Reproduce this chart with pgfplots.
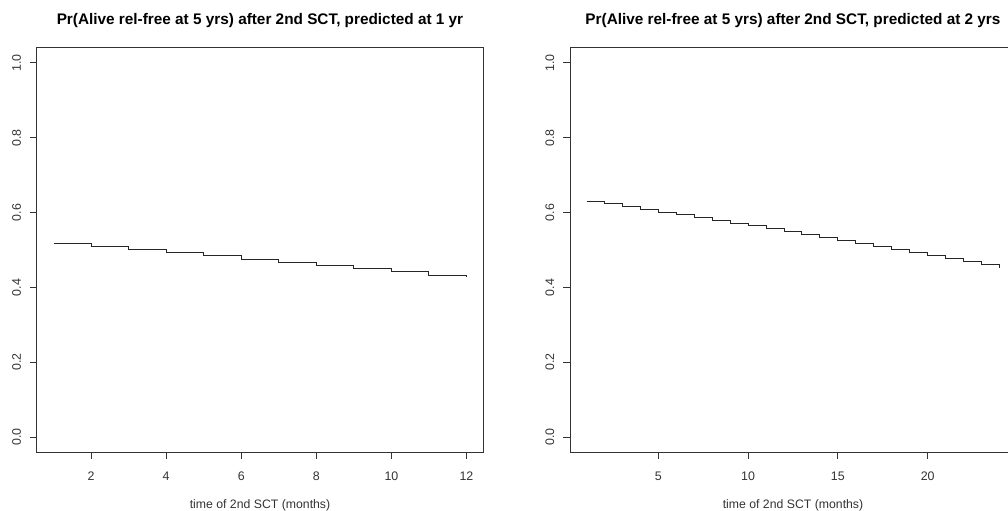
\documentclass[border=0pt]{standalone}
\usepackage{fontspec}
\setmainfont{Liberation Sans}
\usepackage{pgfplots}
\pgfplotsset{compat=1.18}
\pgfplotsset{rstyle/.style={
  scale only axis, width=334.5pt, height=303pt,
  ymin=-0.04, ymax=1.04,
  ytick={0,0.2,0.4,0.6,0.8,1.0},
  yticklabels={0.0,0.2,0.4,0.6,0.8,1.0},
  xtick pos=left, ytick pos=left,
  tick align=outside,
  major tick length=5pt,
  axis line style={black!80, line width=0.75pt},
  every tick/.style={black!80, line width=0.75pt},
  /pgf/number format/assume math mode=true,
  tick label style={font=\fontsize{9.3}{11}\selectfont, text=black!80},
  xticklabel style={anchor=base, yshift=-16pt},
  yticklabel style={xshift=-7pt, rotate=90, anchor=base},
  title style={font=\bfseries\fontsize{11.5}{13}\selectfont, at={(0.5,1)}, anchor=base, yshift=11.6pt},
  xlabel style={font=\fontsize{9.2}{11}\selectfont, text=black!80, at={(0.5,0)}, anchor=base, yshift=-42pt},
  xlabel={time of 2nd SCT (months)},
}}
\begin{document}
\begin{tikzpicture}
\path[use as bounding box] (0pt,0pt) rectangle (756pt,383.25pt);
\begin{scope}
\clip (0pt,0pt) rectangle (756pt,383.25pt);
\begin{axis}[rstyle, at={(27.75pt,44.25pt)}, anchor=south west,
  xmin=0.56, xmax=12.44, xtick={2,4,6,8,10,12},
  title={Pr(Alive rel-free at 5 yrs) after 2nd SCT, predicted at 1 yr}]
\addplot[const plot, black!85, line width=0.75pt] coordinates {
(1,0.5164) (2,0.5093) (3,0.5018) (4,0.4929) (5,0.4848) (6,0.4757)
(7,0.4675) (8,0.4595) (9,0.4505) (10,0.4417) (11,0.4328) (12,0.4278)};
\end{axis}
\begin{axis}[rstyle, at={(427.5pt,44.25pt)}, anchor=south west,
  xmin=0.08, xmax=24.92, xtick={5,10,15,20},
  title={Pr(Alive rel-free at 5 yrs) after 2nd SCT, predicted at 2 yrs}]
\addplot[const plot, black!85, line width=0.75pt] coordinates {
(1,0.630) (2,0.623) (3,0.616) (4,0.608) (5,0.601) (6,0.594)
(7,0.587) (8,0.579) (9,0.572) (10,0.565) (11,0.557) (12,0.549)
(13,0.541) (14,0.534) (15,0.526) (16,0.517) (17,0.509) (18,0.501)
(19,0.494) (20,0.485) (21,0.477) (22,0.468) (23,0.460) (24,0.453)};
\end{axis}
\end{scope}
\end{tikzpicture}
\end{document}
